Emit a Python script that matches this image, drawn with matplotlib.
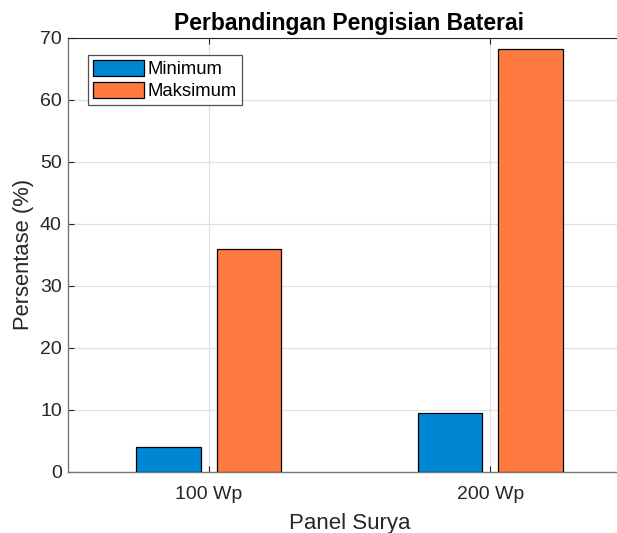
import matplotlib
matplotlib.use("Agg")
import matplotlib.pyplot as plt
import numpy as np

plt.rcParams['font.family'] = ['Liberation Sans', 'DejaVu Sans']

categories = ['100 Wp', '200 Wp']
series_names = ['Minimum', 'Maksimum']
minimum = [3.9, 9.5]
maksimum = [36.0, 68.3]
yticks = [0, 10, 20, 30, 40, 50, 60, 70]

W, H = 617, 533
fig = plt.figure(figsize=(W/100, H/100), dpi=100)
ax = fig.add_axes([68/W, 1-471.5/H, (631-68)/W, (471.5-38)/H])

x = np.arange(1, len(categories)+1)
bw = 0.23
off = 0.143
ax.bar(x-off, minimum, bw, color='#0087D4', edgecolor='black', linewidth=0.9, label=series_names[0], zorder=3)
ax.bar(x+off, maksimum, bw, color='#FF7A40', edgecolor='black', linewidth=0.9, label=series_names[1], zorder=3)

ax.set_xlim(0.5, 2.5)
ax.set_ylim(0, 70)
ax.set_xticks(x)
ax.set_xticklabels(categories)
ax.set_yticks(yticks)
ax.tick_params(direction='in', length=4, labelsize=14, colors='#262626', top=True, right=True)
ax.tick_params(axis='y', pad=4.5)
ax.tick_params(axis='x', pad=10.5)
ax.grid(True, color='#e0e0e0', linewidth=0.9, zorder=0)
ax.set_axisbelow(True)
for s in ['left', 'bottom']:
    ax.spines[s].set_color('#777777')
    ax.spines[s].set_linewidth(1.0)
ax.spines['top'].set_color('#262626')
ax.spines['right'].set_color('#262626')

ax.set_title('Perbandingan Pengisian Baterai', fontsize=16.5, fontweight='bold', pad=6)
ax.set_ylabel('Persentase (%)', fontsize=15.8, color='#262626', labelpad=4.5)
ax.set_xlabel('Panel Surya', fontsize=16, color='#262626', labelpad=7.5)

leg = ax.legend(loc='upper left', bbox_to_anchor=((87.7-68)/(631-68), 1-(55-38)/(471.5-38)),
                fontsize=13.3, frameon=True, fancybox=False, edgecolor='#262626',
                handlelength=2.75, handleheight=0.9, handletextpad=0.2, borderpad=0.28,
                labelspacing=0.22, borderaxespad=0)
leg.get_frame().set_linewidth(0.9)

fig.savefig('out.png', dpi=100)
